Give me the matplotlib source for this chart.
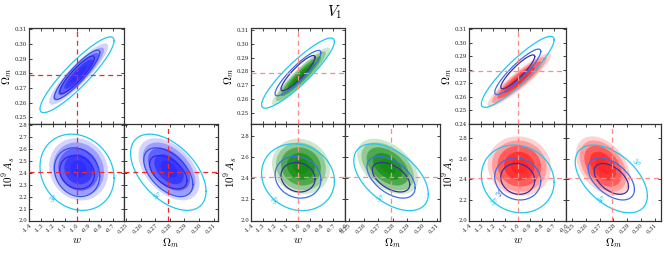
import numpy as np
import matplotlib
matplotlib.use('Agg')
import matplotlib.pyplot as plt
from matplotlib.ticker import MultipleLocator, FormatStrFormatter

plt.rcParams['mathtext.fontset'] = 'cm'
plt.rcParams['font.family'] = ['DejaVu Serif']
plt.rcParams['axes.unicode_minus'] = True

# fiducial values
w_fid, om_fid, As_fid = -1.0, 0.279, 2.41

# contour half-extents per group (rows) for 1, 2, 3 sigma
w_half = [[0.145, 0.19, 0.31], [0.145, 0.195, 0.31], [0.14, 0.19, 0.30]]
om_half = [[0.0128, 0.0168, 0.0258], [0.0128, 0.0165, 0.0255], [0.0125, 0.0168, 0.0262]]
As_half = [[0.14, 0.205, 0.32], [0.139, 0.197, 0.315], [0.15, 0.205, 0.33]]
# contour centres
w_c = [-0.998, -1.0, -0.998]
om_c = [0.279, 0.2788, 0.2785]
As_c = [2.405, 2.408, 2.405]
rho_w_om = [0.9, 0.9, 0.9]
rho_w_As = [-0.15, -0.12, -0.1]
rho_om_As = [-0.5, -0.5, -0.5]

# point clouds (centre, spread, correlation)
cloud_w = [-0.985, -0.975, -0.985]
cloud_om = [0.2795, 0.2765, 0.2725]
cloud_As = [2.43, 2.51, 2.53]
cloud_sw = [0.085, 0.085, 0.09]
cloud_som = [0.0072, 0.0072, 0.0068]
cloud_sAs = [0.09, 0.09, 0.1]
cloud_rho_w_om = [0.9, 0.93, 0.92]
cloud_rho_w_As = [-0.1, -0.1, -0.05]
cloud_rho_om_As = [-0.45, -0.45, -0.4]

# axis limits per group
w_lim = [(-1.4, -0.605), (-1.4, -0.6), (-1.4, -0.6)]
om_ylim = [(0.2455, 0.3105), (0.2418, 0.3112), (0.24, 0.3105)]
om_xlim = [(0.2487, 0.313), (0.2473, 0.3123), (0.2456, 0.3146)]
As_lim = [(2.0, 2.81), (2.0, 2.91), (2.0, 2.94)]
As_step = [0.1, 0.2, 0.2]

point_colors = ['#2626ff', '#0b8a0b', '#ff2020']
sig_colors = ['#3b2f9e', '#3a6ee8', '#1ec8f0']
fid_colors = ['#ee2a2a', '#ff8a8a', '#ff8a8a']

W, H = 664, 277
fig = plt.figure(figsize=(W / 100, H / 100), dpi=100)


def rect(x0, y0, x1, y1):
    return [x0 / W, 1 - y1 / H, (x1 - x0) / W, (y1 - y0) / H]


def ell(cx, cy, a, b, rho):
    t = np.linspace(0, 2 * np.pi, 200)
    return cx + a * np.cos(t), cy + b * (rho * np.cos(t) + np.sqrt(1 - rho ** 2) * np.sin(t))


def style(ax):
    ax.tick_params(direction='in', top=True, right=True, length=2.5, width=0.6,
                   labelsize=4, pad=1.5, colors='#222222')
    for s in ax.spines.values():
        s.set_color('#333333')
        s.set_linewidth(0.9)


def draw_pair(ax, g, cx, cy, ax_half, by_half, rho, pc, ps_x, ps_y, prho, fx, fy):
    # point cloud
    z_cloud = 3 if g == 0 else 2
    for k, a in [(2.9, 0.2), (2.5, 0.3), (2.0, 0.5), (1.4, 0.65), (0.8, 0.6)]:
        xs, ys = ell(pc[0], pc[1], k * ps_x, k * ps_y, prho)
        ax.fill(xs, ys, color=point_colors[g], alpha=a, lw=0, zorder=z_cloud)
    for i in range(3):
        xs, ys = ell(cx, cy, ax_half[i], by_half[i], rho)
        z = 4 if (i == 2 or g > 0) else 2
        ax.plot(xs, ys, color=sig_colors[i], lw=0.9, zorder=z)
    ax.axvline(fx, color=fid_colors[g], lw=0.9, dashes=(4, 3), zorder=5)
    ax.axhline(fy, color=fid_colors[g], lw=0.9, dashes=(4, 3), zorder=5)


def sig_label(ax, x, y, txt, i, rot):
    ax.text(x, y, txt, color=sig_colors[i], fontsize=5.5, rotation=rot,
            ha='center', va='center', zorder=6)


x_cols = [(29, 124, 218), (251, 345, 440), (469, 566, 661)]
y_rows = (28.5, 124, 220.5)

for g in range(3):
    x0, x1, x2 = x_cols[g]
    a_tl = fig.add_axes(rect(x0, y_rows[0], x1, y_rows[1]))
    a_bl = fig.add_axes(rect(x0, y_rows[1], x1, y_rows[2]))
    a_br = fig.add_axes(rect(x1, y_rows[1], x2, y_rows[2]))

    wh = w_half[g]; oh = om_half[g]; ah = As_half[g]
    draw_pair(a_tl, g, w_c[g], om_c[g], wh, oh, rho_w_om[g],
              (cloud_w[g], cloud_om[g]), cloud_sw[g], cloud_som[g], cloud_rho_w_om[g], w_fid, om_fid)
    draw_pair(a_bl, g, w_c[g], As_c[g], wh, ah, rho_w_As[g],
              (cloud_w[g], cloud_As[g]), cloud_sw[g], cloud_sAs[g], cloud_rho_w_As[g], w_fid, As_fid)
    draw_pair(a_br, g, om_c[g], As_c[g], oh, ah, rho_om_As[g],
              (cloud_om[g], cloud_As[g]), cloud_som[g], cloud_sAs[g], cloud_rho_om_As[g], om_fid, As_fid)

    for a in (a_tl, a_bl, a_br):
        style(a)

    a_tl.set_xlim(*w_lim[g]); a_tl.set_ylim(*om_ylim[g])
    a_bl.set_xlim(*w_lim[g]); a_bl.set_ylim(*As_lim[g])
    a_br.set_xlim(*om_xlim[g]); a_br.set_ylim(*As_lim[g])

    for a in (a_tl, a_bl):
        a.xaxis.set_major_locator(MultipleLocator(0.1))
        a.xaxis.set_major_formatter(FormatStrFormatter('%.1f'))
    a_tl.yaxis.set_major_locator(MultipleLocator(0.01))
    a_tl.yaxis.set_major_formatter(FormatStrFormatter('%.2f'))
    a_br.xaxis.set_major_locator(MultipleLocator(0.01))
    a_br.xaxis.set_major_formatter(FormatStrFormatter('%.2f'))
    for a in (a_bl, a_br):
        a.yaxis.set_major_locator(MultipleLocator(As_step[g]))
        a.yaxis.set_major_formatter(FormatStrFormatter('%.1f'))

    a_tl.tick_params(labelbottom=False)
    a_br.tick_params(labelleft=False)
    for a in (a_bl, a_br):
        for lab in a.get_xticklabels():
            lab.set_rotation(45)
            lab.set_ha('right')
            lab.set_rotation_mode('anchor')

    a_tl.set_ylabel(r'$\Omega_m$', fontsize=8, labelpad=0.5)
    a_bl.set_ylabel(r'$10^9\,A_s$', fontsize=8, labelpad=0.5)
    a_bl.set_xlabel(r'$w$', fontsize=8, labelpad=1)
    a_br.set_xlabel(r'$\Omega_m$', fontsize=8, labelpad=1)

    # contour labels
    sig_label(a_bl, -1.19, 2.19, r'$3\sigma$', 2, 40)
    sig_label(a_br, 0.2715, 2.215, r'$3\sigma$', 2, 40)
    if g == 2:
        sig_label(a_bl, -1.145, 2.28, r'$2\sigma$', 1, 60)
        sig_label(a_br, 0.297, 2.57, r'$3\sigma$', 2, -40)

fig.text(335 / W, 1 - 12 / H, r'$V_1$', fontsize=11, ha='center', va='center')

fig.savefig('out.png', dpi=100)
